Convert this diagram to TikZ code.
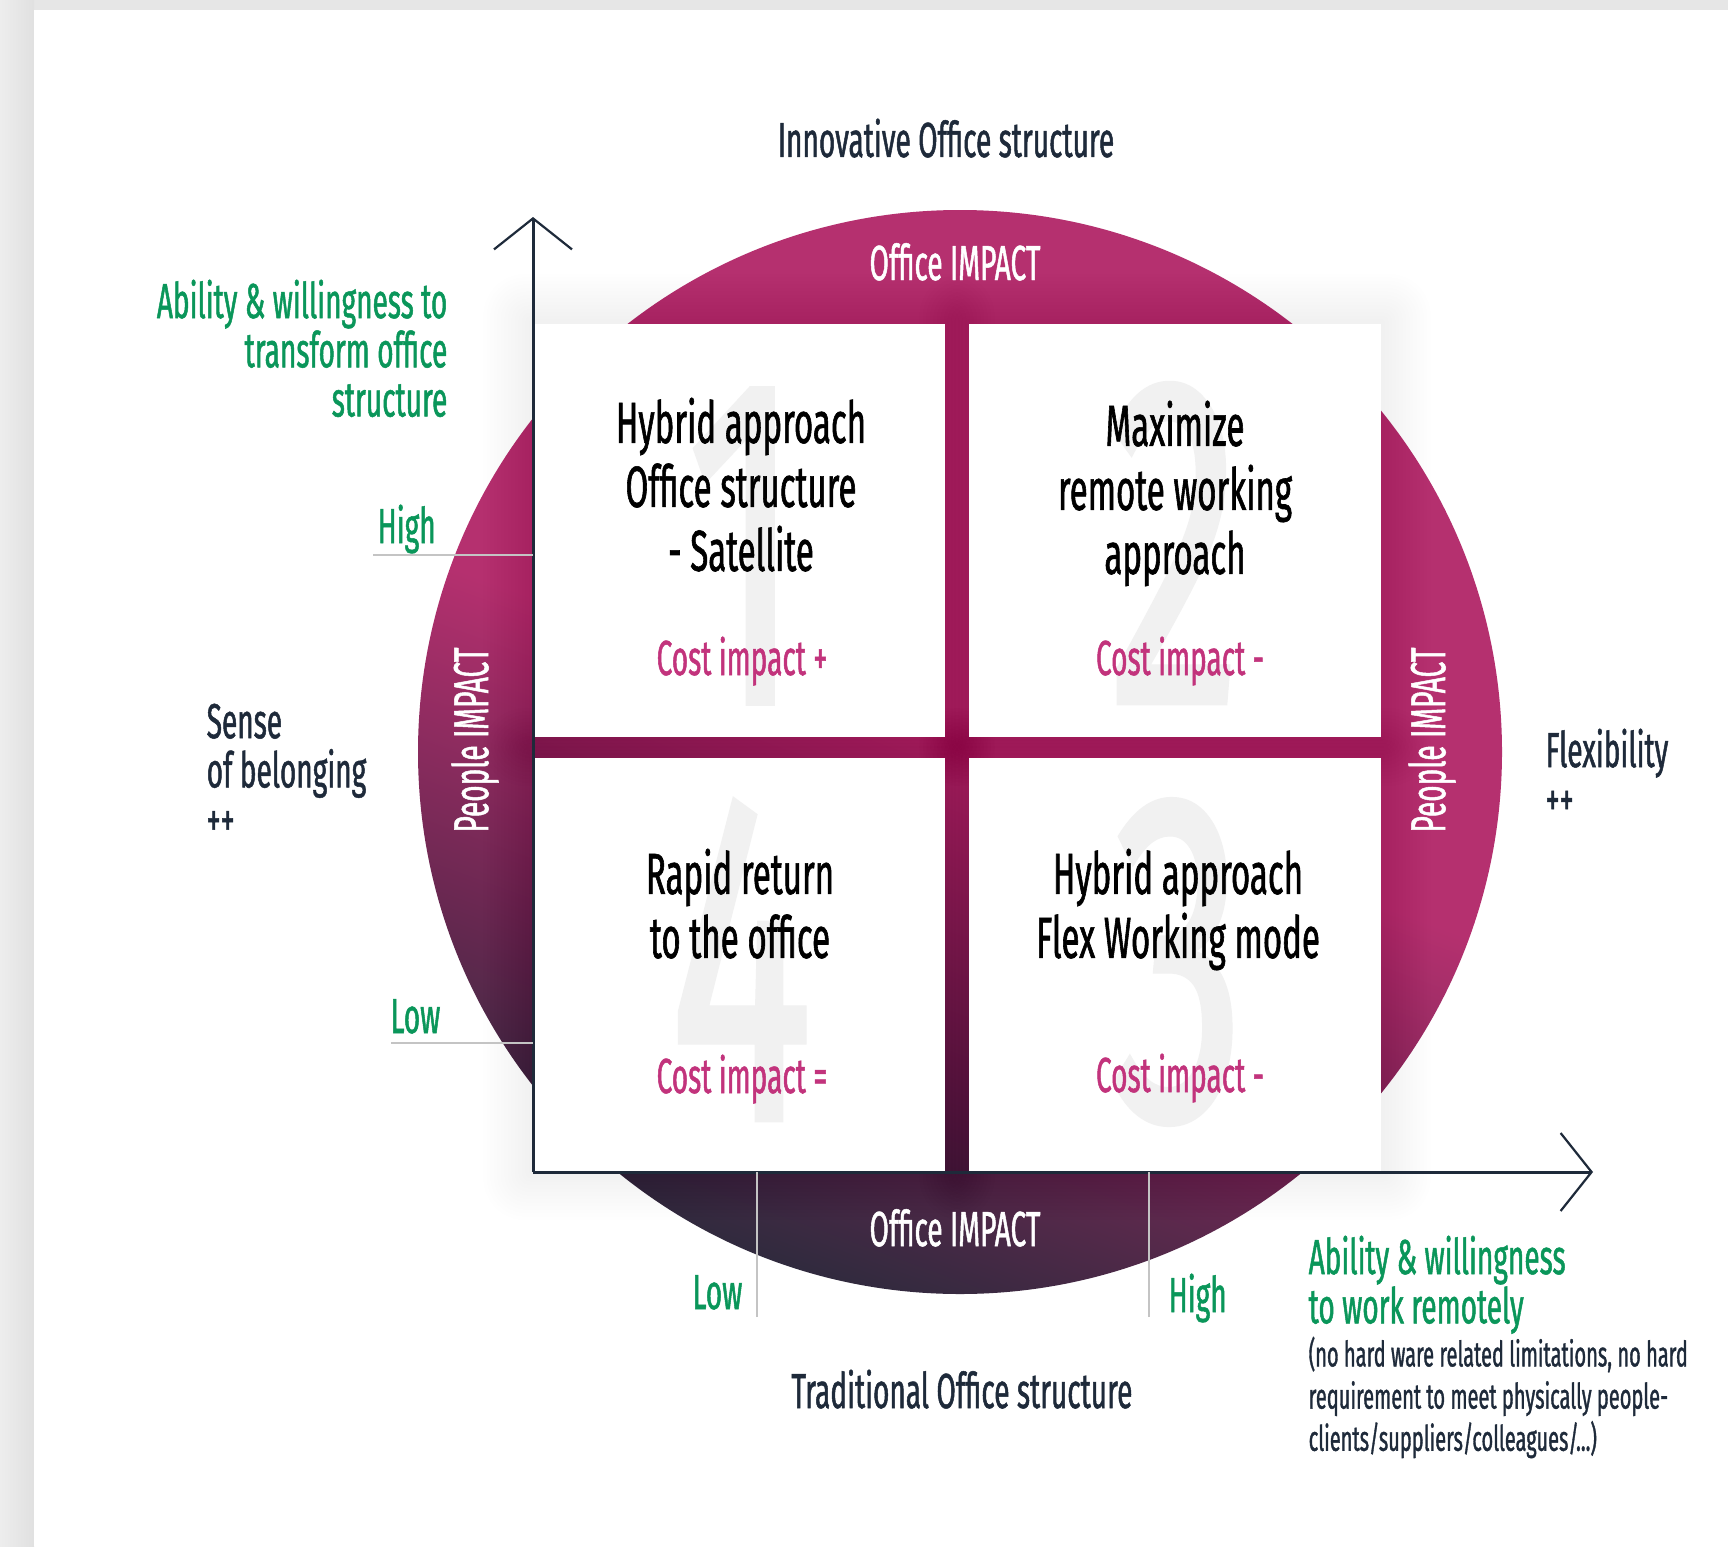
\documentclass[tikz,border=0pt]{standalone}
\usepackage{fontspec}
\setmainfont{Fira Sans}[FakeStretch=0.57, FakeBold=1]
\usetikzlibrary{arrows.meta,backgrounds}

\definecolor{inkblue}{HTML}{1E2A3A}
\definecolor{okgreen}{HTML}{0A965A}
\definecolor{impact}{HTML}{B5306F}
\definecolor{impactmid}{HTML}{6C2852}
\definecolor{impactdark}{HTML}{2B2A3C}
\definecolor{costpink}{HTML}{C2337C}
\definecolor{numgray}{HTML}{F1F1F1}
\definecolor{tickgray}{HTML}{C4C4C4}
\definecolor{framegray}{HTML}{E6E6E6}

% magenta circle, going dark towards the lower left
\pgfdeclareverticalshading{impactfade}{100bp}{color(0bp)=(impactdark); color(24bp)=(impactdark);
  color(36bp)=(impactmid); color(50bp)=(impact); color(100bp)=(impact)}

\newcommand\lblsize{\fontsize{14}{14}\selectfont}
\newcommand\quadsize{\fontsize{16.5}{18.2}\selectfont}
\newcommand\notesize{\fontsize{10}{12}\selectfont}
\newcommand\numsize{\fontsize{134}{134}\selectfont}

\begin{document}
\begin{tikzpicture}[x=0.1mm, y=-0.1mm,
  quad/.style={fill=white, minimum width=41.2mm, minimum height=41.3mm, inner sep=0pt},
  quadtxt/.style={font=\quadsize, align=center, anchor=north, inner sep=0pt},
  cost/.style={font=\lblsize, text=costpink, anchor=base, inner sep=0pt},
  bignum/.style={font=\numsize, text=numgray, inner sep=0pt},
  lbl/.style={font=\lblsize, text=inkblue, inner sep=0pt},
  ability/.style={font=\lblsize, text=okgreen, inner sep=0pt},
  impactlbl/.style={font=\lblsize, text=white, inner sep=0pt},
  tickline/.style={draw=tickgray, line width=0.2mm},
  axisline/.style={draw=inkblue, line width=0.3mm,
    -{Straight Barb[length=3.1mm, width=7.8mm, line width=0.22mm]}},
]
\useasboundingbox (0,0) rectangle (1728,1546);

% the four quadrants
\node[quad] (q1) at (739,530) {};
\node[quad] (q2) at (1175,530) {};
\node[quad] (q3) at (1175,964) {};
\node[quad] (q4) at (739,964) {};
\node[bignum] (q1num) at (744,546) {1};
\node[bignum] (q2num) at (1175,543) {2};
\node[bignum] (q3num) at (1178,962) {3};
\node[bignum] (q4num) at (741,960) {4};
\node[quadtxt] (q1txt) at (741,397) {Hybrid approach\\Office structure\\- Satellite};
\node[quadtxt] (q2txt) at (1175,400) {Maximize\\remote working\\approach};
\node[quadtxt] (q3txt) at (1178,848) {Hybrid approach\\Flex Working mode};
\node[quadtxt] (q4txt) at (740,848) {Rapid return\\to the office};
\node[cost] (q1cost) at (742,675) {Cost impact +};
\node[cost] (q2cost) at (1180,675) {Cost impact -};
\node[cost] (q3cost) at (1180,1092) {Cost impact -};
\node[cost] (q4cost) at (742,1093) {Cost impact =};

% labels on the ring
\node[impactlbl, anchor=base] (offtop) at (955,280) {Office IMPACT};
\node[impactlbl, anchor=base] (offbot) at (955,1246) {Office IMPACT};
\node[impactlbl, rotate=90] (pplleft) at (475,740) {People IMPACT};
\node[impactlbl, rotate=90] (pplright) at (1432,740) {People IMPACT};

% axes
\coordinate (origin) at (533,1172);
\coordinate (ytip) at (533,217);
\coordinate (xtip) at (1593,1172);
\draw[axisline] (origin) -- (ytip);
\draw[axisline] (origin) -- (xtip);

% low / high marks
\coordinate (yhigh) at (373,555);
\coordinate (ylow) at (391,1043);
\coordinate (xlow) at (757,1317);
\coordinate (xhigh) at (1149,1317);
\draw[tickline] (yhigh) -- (yhigh -| origin);
\draw[tickline] (ylow) -- (ylow -| origin);
\draw[tickline] (xlow) -- (xlow |- origin);
\draw[tickline] (xhigh) -- (xhigh |- origin);
\node[ability, anchor=base west] (highlbl) at (377,543) {High};
\node[ability, anchor=base east] (lowlbl) at (441,1033) {Low};
\node[ability, anchor=base east] (xlowlbl) at (743,1309) {Low};
\node[ability, anchor=base west] (xhighlbl) at (1168,1312) {High};

% axis texts
\node[lbl, anchor=base] (inno) at (946,157) {Innovative Office structure};
\node[lbl, anchor=base] (trad) at (962,1408) {Traditional Office structure};
\node[lbl, align=left, anchor=north west] (belong) at (206,703) {Sense\\of belonging\\++};
\node[lbl, align=left, anchor=north west] (flex) at (1545,728) {Flexibility\\++};
\node[ability, align=right, anchor=north east] (transform) at (448,279)
  {Ability \& willingness to\\transform office\\structure};
\node[ability, align=left, anchor=north west] (remote) at (1308,1235)
  {Ability \& willingness\\to work remotely};
\node[lbl, font=\notesize, align=left, anchor=north west] (remotenote) at (1308,1336)
  {(no hard ware related limitations, no hard\\requirement to meet physically people-\\clients/suppliers/colleagues/...)};

\begin{scope}[on background layer]
  % page frame
  \fill[framegray] (0,0) rectangle (1728,1546);
  \shade[left color=gray!14, right color=gray!24] (0,0) rectangle (34,1546);
  \fill[white] (34,10) rectangle (1728,1546);
  % ring
  \shade[shading=impactfade, shading angle=-20] (960,752) circle (542);
  % soft shadow round each quadrant
  \foreach \q in {q1,q2,q3,q4}
    \foreach \s in {1,...,14}
      \fill[black, opacity=0.0045, rounded corners=\s*0.3mm]
        ([shift={(-\s*3.5,-\s*3.5)}]\q.north west) rectangle ([shift={(\s*3.5,\s*3.5)}]\q.south east);
\end{scope}
\end{tikzpicture}
\end{document}
